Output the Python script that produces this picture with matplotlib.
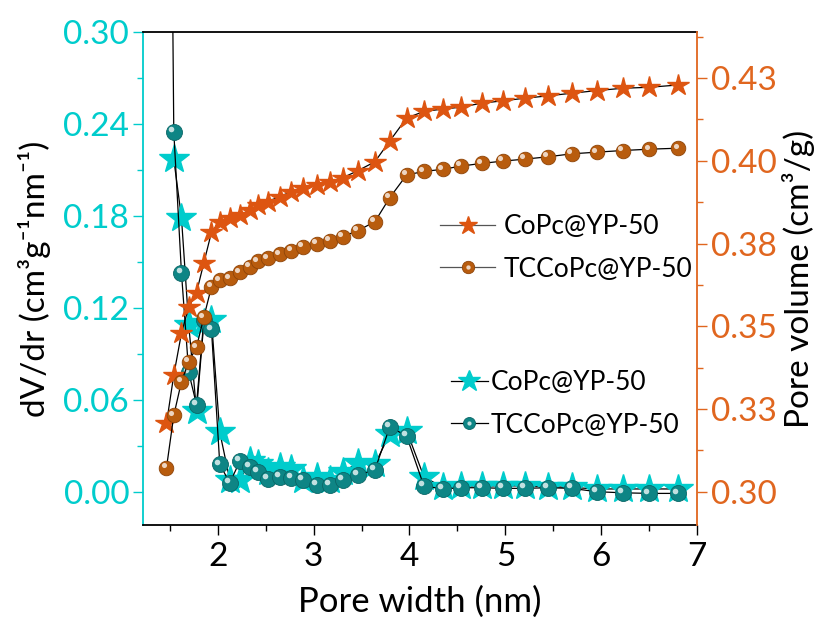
import numpy as np
import matplotlib
matplotlib.use("Agg")
import matplotlib.pyplot as plt
from matplotlib.transforms import offset_copy
from matplotlib.legend_handler import HandlerTuple

plt.rcParams['font.family'] = ['Lato', 'DejaVu Sans']

# pore width grid (nm), cumulative curves
width_cum = [1.465, 1.541, 1.621, 1.697, 1.778, 1.854, 1.934, 2.021, 2.125, 2.230,
             2.334, 2.418, 2.522, 2.647, 2.769, 2.887, 3.030, 3.169, 3.305, 3.461,
             3.639, 3.795, 3.970, 4.150, 4.345, 4.537, 4.753, 4.972, 5.205, 5.442,
             5.692, 5.953, 6.224, 6.502, 6.805]
vol_copc = [0.3207, 0.3353, 0.3479, 0.3559, 0.3602, 0.3691, 0.3784, 0.3816, 0.3826, 0.3836,
            0.3851, 0.3867, 0.3877, 0.3892, 0.3907, 0.3918, 0.3927, 0.3936, 0.3949, 0.3970,
            0.3997, 0.4060, 0.4129, 0.4149, 0.4156, 0.4162, 0.4174, 0.4181, 0.4189, 0.4196,
            0.4204, 0.4212, 0.4219, 0.4222, 0.4229]
vol_tccopc = [0.3073, 0.3231, 0.3333, 0.3393, 0.3437, 0.3527, 0.3619, 0.3639, 0.3645, 0.3663,
              0.3679, 0.3696, 0.3705, 0.3718, 0.3728, 0.3741, 0.3749, 0.3759, 0.3771, 0.3789,
              0.3816, 0.3889, 0.3957, 0.3968, 0.3974, 0.3984, 0.3992, 0.3999, 0.4005, 0.4012,
              0.4021, 0.4026, 0.4031, 0.4035, 0.4038]

# pore size distributions
dvdr_copc = [None, 0.217, 0.179, 0.109, 0.053, 0.110, 0.112, 0.039, 0.008, 0.008,
             0.020, 0.018, 0.013, 0.016, 0.015, 0.008, 0.010, 0.008, 0.013, 0.019,
             0.018, 0.038, 0.040, 0.010, 0.003, 0.004, 0.004, 0.004, 0.004, 0.0035,
             0.003, 0.002, 0.002, 0.002, 0.002]
dvdr_tccopc = [0.77, 0.235, 0.143, 0.078, 0.057, 0.112, 0.106, 0.018, 0.006, 0.020,
               0.0165, 0.013, 0.0085, 0.010, 0.009, 0.008, 0.0046, 0.0046, 0.008, 0.011,
               0.0144, 0.0426, 0.0365, 0.004, 0.002, 0.0028, 0.0028, 0.0024, 0.0024, 0.0028,
               0.0024, 0.0002, -0.0005, -0.0009, -0.0009]

c_cyan = '#00CCCC'
c_teal = '#0E8585'
c_orange = '#DD5511'
c_brown = '#B85C0E'
c_rax = '#E0661F'

fig = plt.figure(figsize=(8.31, 6.21), dpi=100)
ax = fig.add_axes([0.1721, 0.1546, 0.6667, 0.7939])
ax2 = ax.twinx()


def balls(a, x, y, color, edge, ms, label):
    x = np.array(x, dtype=float)
    y = np.array([np.nan if v is None else v for v in y], dtype=float)
    ln, = a.plot(x, y, '-', color='black', lw=0.9, marker='o', ms=ms,
                 mfc=color, mec=edge, mew=0.6, label=label)
    tr = offset_copy(a.transData, fig=fig, x=-ms * 0.18, y=ms * 0.18, units='points')
    hi, = a.plot(x, y, 'o', ms=ms * 0.35, mfc='white', mec='none', alpha=0.75,
                 transform=tr)
    return ln, hi


# left axis
s1, = ax.plot(width_cum[1:], dvdr_copc[1:], '-', color='black', lw=0.9, marker='*',
              ms=22, mfc=c_cyan, mec=c_cyan, label='CoPc@YP-50')
b1 = balls(ax, width_cum, dvdr_tccopc, c_teal, '#0A6666', 11.5, 'TCCoPc@YP-50')

# right axis
s2, = ax2.plot(width_cum, vol_copc, '-', color='black', lw=0.9, marker='*',
               ms=16, mfc=c_orange, mec=c_orange, label='CoPc@YP-50')
b2 = balls(ax2, width_cum, vol_tccopc, c_brown, '#8E4408', 10.5, 'TCCoPc@YP-50')

ax.set_xlim(1.22, 7.0)
ax.set_ylim(-0.0215, 0.30)
ax2.set_ylim(0.290, 0.4389)

ax.set_xticks([2, 3, 4, 5, 6, 7])
ax.set_xticks(np.arange(1.5, 7.0, 1.0), minor=True)
ax.set_yticks([0.00, 0.06, 0.12, 0.18, 0.24, 0.30])
ax.set_yticklabels(['0.00', '0.06', '0.12', '0.18', '0.24', '0.30'])
ax.set_yticks([0.03, 0.09, 0.15, 0.21, 0.27], minor=True)
ax2.set_yticks([0.300, 0.325, 0.350, 0.375, 0.400, 0.425])
ax2.set_yticklabels(['0.30', '0.33', '0.35', '0.38', '0.40', '0.43'])
ax2.set_yticks([0.3125, 0.3375, 0.3625, 0.3875, 0.4125, 0.4375], minor=True)

fs = 24
ax.tick_params(axis='x', which='major', direction='out', length=7, width=1,
               labelsize=fs, colors='black', top=False, pad=5)
ax.tick_params(axis='x', which='minor', direction='out', length=4, width=1, top=False)
ax.tick_params(axis='y', which='major', direction='out', length=7, width=1,
               labelsize=fs, colors=c_cyan, right=False, pad=3)
ax.tick_params(axis='y', which='minor', direction='out', length=4, width=1,
               colors=c_cyan, right=False)
ax2.tick_params(axis='y', which='major', direction='out', length=7, width=1,
                labelsize=fs, colors=c_rax, pad=3)
ax2.tick_params(axis='y', which='minor', direction='out', length=4, width=1, colors=c_rax)

ax.spines['left'].set_color(c_cyan)
ax.spines['right'].set_visible(False)
ax2.spines['left'].set_visible(False)
ax2.spines['top'].set_visible(False)
ax2.spines['bottom'].set_visible(False)
ax2.spines['right'].set_color(c_rax)
for sp in ax.spines.values():
    sp.set_linewidth(1.3)
ax2.spines['right'].set_linewidth(1.3)

ax.set_xlabel('Pore width (nm)', fontsize=25, labelpad=10)
ax.set_ylabel('dV/dr (cm³g⁻¹nm⁻¹)', fontsize=fs, labelpad=9)
ax2.set_ylabel('Pore volume (cm³/g)', fontsize=fs, labelpad=4)

leg1 = fig.legend([s2, b2], ['CoPc@YP-50', 'TCCoPc@YP-50'],
                  handler_map={tuple: HandlerTuple(ndivide=1, pad=0)},
                  loc='center left', bbox_to_anchor=(440 / 831, 1 - 248 / 621),
                  frameon=False, fontsize=19,
                  handlelength=2.1, handletextpad=0.3, labelspacing=0.65,
                  markerscale=0.85, borderpad=0, borderaxespad=0)
for l in leg1.get_lines():
    l.set_color('#555555')

leg2 = fig.legend([s1, b1], ['CoPc@YP-50', 'TCCoPc@YP-50'],
                  handler_map={tuple: HandlerTuple(ndivide=1, pad=0)},
                  loc='center left', bbox_to_anchor=(451 / 831, 1 - 404 / 621),
                  frameon=False, fontsize=19,
                  handlelength=1.4, handletextpad=0.1, labelspacing=0.65,
                  markerscale=0.75, borderpad=0, borderaxespad=0)

fig.savefig('out.png', dpi=100)
